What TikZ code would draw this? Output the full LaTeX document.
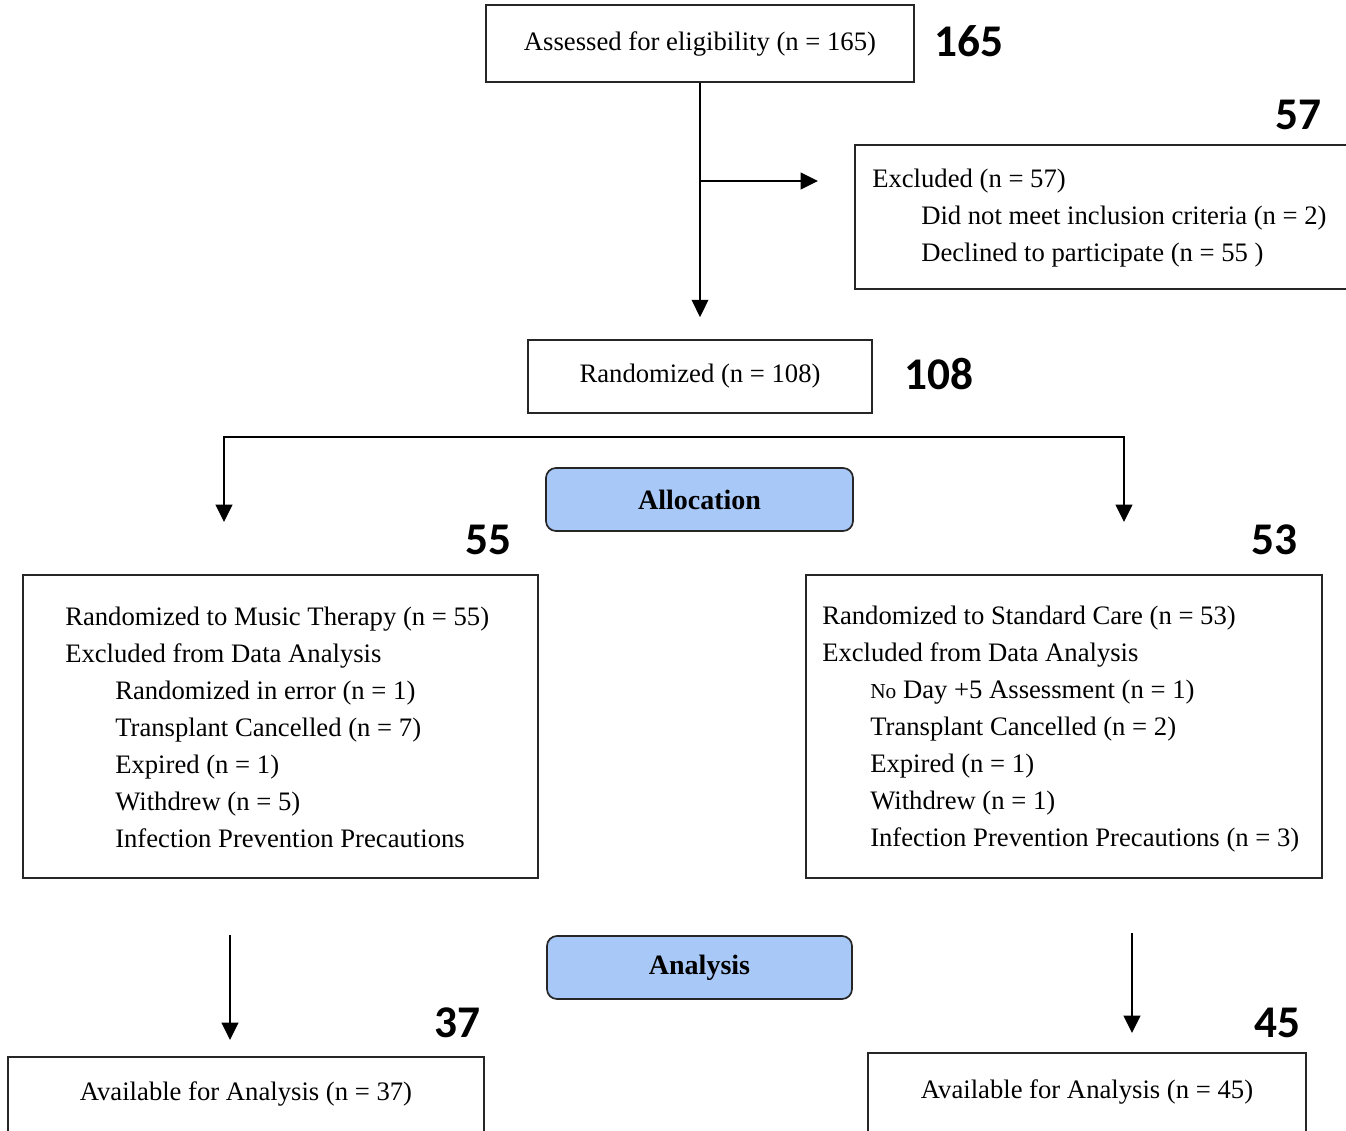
\documentclass[tikz,border=0pt]{standalone}
\usepackage{xcolor}
\usepackage{fontspec}
\setmainfont{Liberation Serif}
\newfontfamily\countfont{Carlito}
\usetikzlibrary{arrows.meta,positioning}

\definecolor{phasefill}{RGB}{168,200,248}

\tikzset{
  flowbox/.style={draw=black!85, line width=1.3pt, rectangle, inner sep=0pt,
    font=\fontsize{20}{27.75}\selectfont},
  phasebox/.style={flowbox, rounded corners=7.5pt, fill=phasefill,
    font=\fontsize{21}{25}\selectfont\bfseries},
  boxtext/.style={inner sep=0pt, align=left, font=\fontsize{20}{27.75}\selectfont},
  count/.style={inner sep=0pt, font=\fontsize{34}{40}\countfont\bfseries},
  arr/.style={-{Triangle[length=13pt,width=12.5pt]}, line width=1.3pt},
  arrs/.style={{Triangle[length=13pt,width=12.5pt]}-{Triangle[length=13pt,width=12.5pt]}, line width=1.3pt}
}

\begin{document}
\begin{tikzpicture}[x=0.75pt,y=0.75pt,yscale=-1,xscale=1]
        \useasboundingbox (0,0) rectangle (1346,1131);
        \clip (0,0) rectangle (1346,1131);

        % Enrollment
        \node [flowbox, minimum width=321pt, minimum height=57.75pt] (assess) at (700,43.5) {Assessed for eligibility (n = 165)};
        \node [count] (n165) at (969,41) {165};

        % Excluded
        \node [flowbox, minimum width=386.25pt, minimum height=108pt] (excl) at (1112.5,217) {};
        \node [boxtext, anchor=west] (excltxt) at (872,218) {Excluded (n = 57)\\
          \hspace*{36.75pt}Did not meet inclusion criteria (n = 2)\\
          \hspace*{36.75pt}Declined to participate (n = 55 )};
        \node [count] (n57) at (1298,115) {57};

        % Randomized
        \node [flowbox, minimum width=258pt, minimum height=54.75pt] (rand) at (700,376.5) {Randomized (n = 108)};
        \node [count] (n108) at (939,374) {108};

        % Allocation
        \node [phasebox, minimum width=230.25pt, minimum height=47.25pt] (alloc) at (699.5,499.5) {Allocation};
        \node [count] (n55) at (488,540) {55};
        \node [count] (n53) at (1274,540) {53};

        % Music therapy arm
        \node [flowbox, minimum width=386.25pt, minimum height=227.25pt] (music) at (280.5,726.5) {};
        \node [boxtext, anchor=west] (musictxt) at (65,727) {Randomized to Music Therapy (n = 55)\\
          Excluded from Data Analysis\\
          \hspace*{37.5pt}Randomized in error (n = 1)\\
          \hspace*{37.5pt}Transplant Cancelled (n = 7)\\
          \hspace*{37.5pt}Expired (n = 1)\\
          \hspace*{37.5pt}Withdrew (n = 5)\\
          \hspace*{37.5pt}Infection Prevention Precautions};

        % Standard care arm
        \node [flowbox, minimum width=387pt, minimum height=227.25pt] (std) at (1064,726.5) {};
        \node [boxtext, anchor=west] (stdtxt) at (822,729) {Randomized to Standard Care (n = 53)\\
          Excluded from Data Analysis\\
          \hspace*{36pt}{\fontsize{16}{16}\selectfont No} Day +5 Assessment (n = 1)\\
          \hspace*{36pt}Transplant Cancelled (n = 2)\\
          \hspace*{36pt}Expired (n = 1)\\
          \hspace*{36pt}Withdrew (n = 1)\\
          \hspace*{36pt}Infection Prevention Precautions (n = 3)};

        % Analysis
        \node [phasebox, minimum width=228.75pt, minimum height=47.25pt] (anal) at (699.5,967.5) {Analysis};
        \node [count] (n37) at (457,1023) {37};
        \node [count] (n45) at (1277,1023) {45};

        % Available for analysis
        \node [flowbox, minimum width=357pt, minimum height=75pt] (availL) at (246,1107) {};
        \node [boxtext] (availLtxt) at (246,1094) {Available for Analysis (n = 37)};
        \node [flowbox, minimum width=328.5pt, minimum height=75pt] (availR) at (1087,1103) {};
        \node [boxtext] (availRtxt) at (1087,1092) {Available for Analysis (n = 45)};

        % Arrows
        \draw [arr, shorten >=16.5pt] (assess) -- (rand);
        \coordinate (exclfrom) at (700,181);
        \coordinate (exclto) at (818,181);
        \draw [arr] (exclfrom) -- (exclto);

        \coordinate (forkL) at (224,437);
        \coordinate (forkR) at (1124,437);
        \coordinate (musicin) at (224,522);
        \coordinate (stdin) at (1124,522);
        \draw [arrs] (musicin) -- (forkL) -- (forkR) -- (stdin);

        \coordinate (musicout) at (230,935);
        \coordinate (availLin) at (230,1040);
        \coordinate (stdout) at (1132,933);
        \coordinate (availRin) at (1132,1033);
        \draw [arr] (musicout) -- (availLin);
        \draw [arr] (stdout) -- (availRin);
    \end{tikzpicture}
\end{document}
